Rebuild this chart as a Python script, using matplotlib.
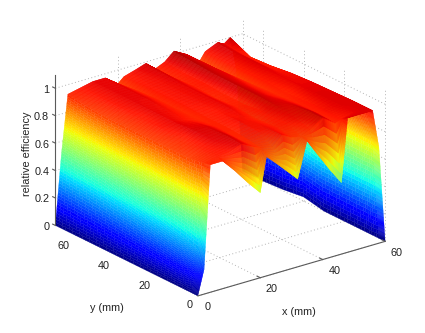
import numpy as np
import matplotlib
matplotlib.use('Agg')
import matplotlib.pyplot as plt
from mpl_toolkits.mplot3d import proj3d

plt.rcParams['font.family'] = ['Liberation Sans', 'DejaVu Sans']

x_mm = [0, 2, 4, 8, 12, 16, 20, 22, 26, 29, 32, 35, 38, 42, 46, 48, 52, 54, 56, 58, 60]
y_mm = [0, 3, 10, 20, 30, 40, 50, 60, 70]

eff_y0 = [0, .18, .93, .93, .83, .72, .62, .87, .78, .71, .64, .90, .79, .65, .52, .98, .98, .98, .98, .70, 0]
eff_y3 = [0, .30, .92, .94, .95, .98, .93, .91, .89, .96, .92, .91, .94, 1.0, .93, .95, .97, .98, .98, .72, 0]
eff_y10 = [0, .34, .90, .94, .97, .99, .93, .93, .95, .96, .94, .95, .97, 1.0, .94, .96, .98, .98, .98, .72, 0]
eff_y20 = [0, .38, .90, .93, .98, .98, .94, .94, .96, .95, .93, .96, .99, .98, .94, .95, .98, .98, .975, .72, 0]
eff_y30 = [0, .42, .90, .95, .97, .95, .93, .94, .95, .97, .94, .94, 1.0, .96, .93, .94, .97, .97, .97, .72, 0]
eff_y40 = [0, .45, .90, .94, .97, .96, .93, .95, .96, .97, .93, .94, 1.0, .96, .92, .95, .97, .96, .96, .73, .03]
eff_y50 = [0, .48, .90, .95, .97, .97, .93, .95, .96, .97, .94, .95, 1.0, .97, .91, .95, .98, .95, .94, .73, .01]
eff_y60 = [0, .50, .91, .95, .97, .97, .92, .95, .96, .98, .93, .95, 1.01, .97, .90, .95, .98, .95, .93, .74, 0]
eff_y70 = [0, .52, .93, .95, .97, .97, .90, .94, .967, .99, .93, .96, 1.02, .97, .885, .95, .99, .966, 1.0, .75, 0]

x_ticks = [0, 20, 40, 60]
y_ticks = [0, 20, 40, 60]
z_ticks = [0, .2, .4, .6, .8, 1]
z_labels = ['0', '0.2', '0.4', '0.6', '0.8', '1']

xlim = (0, 60)
ylim = (0, 70)
zlim = (0, 1.1)

eff = np.array([eff_y0, eff_y3, eff_y10, eff_y20, eff_y30, eff_y40, eff_y50, eff_y60, eff_y70])

# matplotlib has no interpolated shading in 3d, so split each measured cell
# into small faces just to get the colour gradient
def split(vals, n):
    idx = np.arange(len(vals))
    fine = np.linspace(0, len(vals) - 1, (len(vals) - 1) * n + 1)
    return np.interp(fine, idx, vals), fine

nx, ny = 24, 6
x_fine, ix = split(x_mm, nx)
y_fine, iy = split(y_mm, ny)
Z = np.array([np.interp(ix, np.arange(len(x_mm)), row) for row in eff])
Z = np.array([np.interp(iy, np.arange(len(y_mm)), col) for col in Z.T]).T
X, Y = np.meshgrid(x_fine, y_fine)

fig = plt.figure(figsize=(4.25, 3.33), dpi=100)
ax = fig.add_axes([25.1 / 425, -20.1 / 333, 380 / 425, 380 / 333], projection='3d', computed_zorder=False)
ax.set_proj_type('ortho')
ax.view_init(elev=22.3, azim=-127.5)
ax.set_box_aspect((236, 234, 163), zoom=0.946)
ax.set_xlim(*xlim)
ax.set_ylim(*ylim)
ax.set_zlim(*zlim)
ax.set_axis_off()

def label(x, y, z, s, ha='center'):
    px, py, _ = proj3d.proj_transform(x, y, z, ax.get_proj())
    ax.text2D(px, py, s, transform=ax.transData, fontsize=7.8, color='#222222', ha=ha, va='center')

grid = dict(color='#b4b4b4', lw=0.7, ls=(0, (1, 2.5)), zorder=1)
for t in x_ticks[1:]:
    ax.plot([t, t], [0, ylim[1]], [0, 0], **grid)
    ax.plot([t, t], [ylim[1], ylim[1]], [0, zlim[1]], **grid)
for t in y_ticks:
    ax.plot([0, xlim[1]], [t, t], [0, 0], **grid)
    ax.plot([xlim[1], xlim[1]], [t, t], [0, zlim[1]], **grid)
for t in z_ticks[1:]:
    ax.plot([0, xlim[1]], [ylim[1], ylim[1]], [t, t], **grid)
    ax.plot([xlim[1], xlim[1]], [0, ylim[1]], [t, t], **grid)

surf = ax.plot_surface(X, Y, Z, cmap='jet', vmin=0, vmax=1.07, rstride=1, cstride=1,
                       shade=False, linewidth=0.2, antialiased=True, zorder=2)
surf.set_edgecolor('face')

axis = dict(color='#5a5a5a', lw=0.8, zorder=3)
ax.plot(xlim, [0, 0], [0, 0], **axis)
ax.plot([0, 0], [ylim[1], ylim[1]], zlim, **axis)
for t in x_ticks[1:]:
    ax.plot([t, t], [0, 1.5], [0, 0], **axis)
    label(t, -5.7, -.042, str(t))
for t in y_ticks[1:]:
    label(-4, t, -.05, str(t))
label(1.5, -2.5, -.07, '0')
label(-1.7, 1.5, -.066, '0')
for t, s in zip(z_ticks, z_labels):
    ax.plot([0, 0], [ylim[1], ylim[1] + 1.3], [t, t], **axis)
    label(0, ylim[1] + 3, t - .032, s, ha='right')

fig.text(299 / 425, 1 - 312 / 333, 'x (mm)', fontsize=7.8, color='#222222', ha='center', va='center')
fig.text(107 / 425, 1 - 308 / 333, 'y (mm)', fontsize=7.8, color='#222222', ha='center', va='center')
fig.text(27 / 425, 1 - 154 / 333, 'relative efficiency', fontsize=7.8, color='#222222',
         rotation=90, ha='center', va='center')

fig.savefig('out.png', dpi=100)
plt.close(fig)
